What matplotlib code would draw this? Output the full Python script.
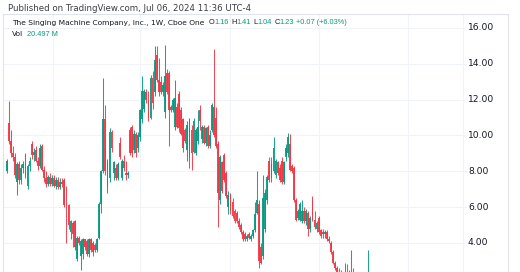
import numpy as np
import matplotlib
matplotlib.use("Agg")
import matplotlib.pyplot as plt

# weekly candles, The Singing Machine Company
opens = [
    8.0, 10.7, 9.7, 9.0, 8.8, 7.4, 8.4, 7.5, 8.2, 8.9,
    7.2, 8.3, 9.5, 8.9, 9.2, 8.6, 8.3, 9.4, 8.1, 7.6,
    7.3, 7.7, 7.3, 7.6, 7.2, 7.5, 7.1, 7.4, 7.5, 6.2,
    6.1, 4.6, 5.1, 5.2, 3.1, 4.3, 3.3, 3.4, 4.2, 4.1,
    3.4, 4.2, 4.0, 3.9, 3.6, 4.3, 6.2, 8.0, 10.9, 7.2,
    7.6, 10.2, 7.9, 8.2, 7.6, 9.6, 7.6, 8.6, 7.9, 7.8,
    10.3, 10.5, 9.2, 10.1, 9.3, 9.9, 10.9, 11.5, 12.4, 12.0,
    11.0, 13.2, 12.4, 14.5, 13.1, 13.0, 12.4, 11.3, 13.5, 13.5,
    11.6, 11.4, 10.5, 11.6, 12.3, 11.4, 10.9, 10.3, 9.2, 8.8,
    10.3, 9.1, 9.0, 9.7, 11.4, 9.8, 10.5, 9.6, 10.5, 9.4,
    10.3, 11.6, 11.0, 9.5, 6.4, 8.5, 8.9, 7.9, 6.0, 6.7,
    6.3, 5.8, 5.7, 5.2, 5.0, 4.6, 4.5, 4.2, 4.5, 4.2,
    4.4, 4.7, 5.7, 6.2, 3.8, 3.3, 4.8, 6.4, 8.6, 7.6,
    8.0, 7.8, 8.5, 8.2, 8.6, 7.4, 8.8, 9.0, 9.5, 8.3,
    8.2, 6.4, 5.4, 5.3, 5.2, 5.8, 5.2, 5.7, 4.8, 6.4,
    5.3, 4.8, 5.4, 4.7, 4.6, 4.5, 4.6, 4.2, 4.0, 3.5,
    2.9, 2.6, 2.4, 2.3, 2.2, 2.3, 2.4, 2.3, 2.2, 2.4,
    2.2, 2.1, 2.0, 2.1, 2.0, 1.9, 2.0, 2.2, 2.0, 1.9,
    1.8, 1.9, 1.8, 1.7, 1.8, 1.7, 1.6, 1.7, 1.6, 1.5,
    1.6, 1.5, 1.4, 1.5, 1.4, 1.3, 1.4, 1.3, 1.2, 1.3,
    1.2, 1.1, 1.2, 1.1, 1.0, 1.1, 1.0, 1.1, 1.2, 1.1,
    1.2, 1.1, 1.1, 1.2, 1.1, 1.1, 1.2, 1.16,
]
highs = [
    8.7, 11.9, 10.3, 9.4, 9.0, 8.5, 8.6, 8.4, 8.6, 9.0,
    8.4, 8.8, 9.7, 9.3, 9.4, 8.8, 9.5, 9.5, 8.3, 8.0,
    7.8, 7.9, 7.8, 7.8, 7.7, 7.7, 7.6, 7.6, 7.6, 7.2,
    6.2, 5.3, 5.2, 5.3, 4.4, 4.4, 4.2, 4.3, 4.2, 4.2,
    4.3, 4.3, 4.1, 4.0, 4.3, 6.3, 8.1, 13.2, 11.7, 8.7,
    10.4, 10.3, 8.6, 8.4, 8.5, 9.9, 8.7, 8.9, 8.6, 8.0,
    10.5, 10.6, 10.3, 10.2, 10.2, 11.5, 13.3, 12.6, 12.6, 12.5,
    13.4, 13.6, 15.0, 15.0, 14.3, 13.3, 13.0, 15.05, 13.7, 13.6,
    11.7, 12.1, 13.1, 11.8, 12.5, 11.6, 11.0, 10.4, 10.8, 11.0,
    10.6, 11.0, 10.4, 11.4, 11.7, 10.6, 10.6, 10.5, 10.6, 10.3,
    11.8, 14.8, 11.6, 9.7, 8.9, 8.6, 9.0, 8.0, 6.9, 6.8,
    6.5, 5.9, 5.8, 5.4, 5.1, 4.7, 4.6, 4.5, 4.6, 4.5,
    4.8, 6.3, 8.0, 6.4, 4.0, 7.8, 7.0, 7.8, 8.8, 8.8,
    9.9, 8.7, 8.6, 8.4, 8.8, 8.6, 9.5, 10.15, 10.1, 8.4,
    8.3, 6.5, 5.9, 6.3, 6.4, 6.0, 5.9, 5.8, 5.5, 6.6,
    5.8, 5.2, 5.5, 4.8, 4.8, 4.7, 4.7, 4.4, 4.1, 3.6,
    3.0, 2.7, 2.6, 2.5, 2.4, 2.9, 2.8, 2.5, 3.6, 2.6,
    2.4, 2.3, 2.2, 2.3, 2.2, 2.1, 3.6, 2.4, 2.2, 2.1,
    2.0, 2.1, 1.9, 1.9, 2.0, 1.8, 1.8, 1.9, 1.7, 1.7,
    1.8, 1.6, 1.6, 1.7, 1.5, 1.5, 1.6, 1.4, 1.4, 1.5,
    1.3, 1.3, 1.4, 1.2, 1.2, 1.3, 1.2, 1.3, 1.4, 1.3,
    1.3, 1.2, 1.3, 1.4, 1.2, 1.3, 1.3, 1.41,
]
lows = [
    7.9, 9.5, 8.8, 8.6, 7.6, 6.7, 7.3, 7.3, 7.9, 7.6,
    7.0, 8.0, 8.7, 8.6, 8.5, 8.1, 8.2, 8.0, 7.4, 7.1,
    7.2, 7.2, 7.2, 7.1, 7.0, 7.0, 7.0, 7.1, 6.0, 4.0,
    4.8, 4.2, 3.8, 3.6, 3.0, 3.9, 2.5, 3.1, 3.6, 3.3,
    3.2, 3.5, 3.3, 3.5, 3.5, 4.2, 5.7, 7.9, 7.8, 6.8,
    7.4, 9.1, 7.5, 7.5, 7.5, 8.7, 7.5, 8.0, 7.5, 7.6,
    8.9, 8.8, 9.0, 8.8, 9.1, 9.7, 10.7, 11.3, 11.8, 10.8,
    10.9, 11.5, 12.2, 13.0, 12.2, 12.3, 12.2, 11.0, 12.3, 9.4,
    11.3, 11.3, 10.3, 10.4, 10.2, 10.0, 9.1, 9.6, 8.6, 8.2,
    8.1, 9.0, 8.9, 9.5, 10.3, 9.6, 9.5, 9.4, 9.3, 9.3,
    10.2, 9.9, 9.3, 4.9, 6.2, 6.8, 7.4, 6.5, 5.6, 5.6,
    5.4, 5.1, 5.1, 4.8, 4.5, 4.1, 4.1, 4.1, 4.2, 4.1,
    4.3, 4.6, 5.6, 2.6, 2.8, 3.1, 4.6, 6.2, 7.4, 7.4,
    7.9, 7.6, 7.8, 7.4, 7.3, 7.3, 8.6, 8.8, 8.0, 7.9,
    6.3, 5.2, 5.3, 5.2, 5.1, 5.1, 5.0, 4.4, 4.6, 5.2,
    4.8, 4.6, 4.5, 4.3, 4.3, 4.3, 4.1, 4.0, 3.4, 2.8,
    2.5, 2.3, 2.2, 2.1, 2.0, 2.2, 2.2, 2.1, 2.1, 2.1,
    2.0, 1.9, 1.8, 1.9, 1.8, 1.8, 1.9, 1.9, 1.8, 1.7,
    1.7, 1.8, 1.6, 1.6, 1.7, 1.5, 1.5, 1.6, 1.4, 1.4,
    1.5, 1.3, 1.3, 1.4, 1.2, 1.2, 1.3, 1.1, 1.1, 1.2,
    1.0, 1.0, 1.1, 0.9, 0.9, 1.0, 0.9, 1.0, 1.1, 1.0,
    1.0, 1.0, 1.0, 1.1, 1.0, 1.0, 1.1, 1.04,
]
closes = [
    8.6, 9.7, 9.0, 8.8, 7.8, 8.4, 7.5, 8.2, 8.4, 7.7,
    8.3, 8.6, 8.9, 9.1, 8.6, 8.3, 9.3, 8.1, 7.6, 7.3,
    7.7, 7.3, 7.6, 7.2, 7.5, 7.1, 7.4, 7.3, 6.1, 6.1,
    5.0, 5.2, 4.5, 3.8, 4.3, 4.0, 4.1, 4.2, 3.8, 3.4,
    4.2, 3.6, 3.5, 3.6, 4.2, 6.2, 8.0, 10.9, 8.0, 8.5,
    10.2, 9.3, 8.5, 7.6, 8.4, 8.8, 8.6, 8.2, 7.8, 7.9,
    9.0, 9.0, 10.1, 9.0, 10.0, 11.4, 12.5, 12.5, 12.0, 11.0,
    13.2, 11.8, 14.2, 13.1, 12.4, 12.4, 12.8, 13.3, 12.4, 11.4,
    11.4, 12.0, 12.1, 10.5, 10.4, 10.1, 9.3, 9.7, 10.6, 10.9,
    9.0, 10.8, 10.3, 10.5, 10.8, 10.5, 9.6, 10.4, 9.4, 10.0,
    11.7, 10.0, 9.4, 6.8, 8.8, 6.9, 7.5, 6.6, 6.7, 5.8,
    5.5, 5.2, 5.2, 4.9, 4.6, 4.2, 4.2, 4.4, 4.3, 4.4,
    4.7, 5.6, 6.4, 3.0, 2.9, 6.5, 6.8, 7.7, 7.5, 8.4,
    9.3, 8.6, 7.9, 7.5, 7.4, 8.5, 9.3, 9.9, 8.1, 8.0,
    6.4, 5.3, 5.8, 6.2, 5.8, 5.2, 5.8, 4.8, 5.4, 5.3,
    4.9, 5.1, 4.6, 4.4, 4.5, 4.6, 4.2, 4.1, 3.5, 2.9,
    2.6, 2.4, 2.3, 2.2, 2.3, 2.4, 2.3, 2.2, 2.4, 2.2,
    2.1, 2.0, 2.1, 2.0, 1.9, 2.0, 2.2, 2.0, 1.9, 1.8,
    1.9, 1.8, 1.7, 1.8, 1.7, 1.6, 1.7, 1.6, 1.5, 1.6,
    1.5, 1.4, 1.5, 1.4, 1.3, 1.4, 1.3, 1.2, 1.3, 1.2,
    1.1, 1.2, 1.1, 1.0, 1.1, 1.0, 1.1, 1.2, 1.1, 1.2,
    1.1, 1.1, 1.2, 1.1, 1.1, 1.2, 1.16, 1.23,
]
price_ticks = [4, 6, 8, 10, 12, 14, 16]

UP = "#089981"
DOWN = "#F23645"
TXT = "#131722"
GRID = "#f0f3fa"

W, H = 520, 272
fig = plt.figure(figsize=(W / 100, H / 100), dpi=100)
fig.patch.set_facecolor("white")

# pane: x from 3 to 508 px, y from 14 px down past the bottom edge
ax = fig.add_axes([3 / W, 0, 505 / W, (H - 14) / H])
step = 2.05  # px per week


def px_to_x(px):
    return (px - 7) / step


ax.set_xlim(px_to_x(3), px_to_x(508))
ax.set_ylim(2.38, 16.78)

o = np.array(opens)
h = np.array(highs)
l = np.array(lows)
c = np.array(closes)
idx = np.arange(len(c))
cols = np.where(c >= o, UP, DOWN)

# grid
for gx in [53, 140, 230, 319, 408, 463]:
    ax.axvline(px_to_x(gx), color=GRID, lw=0.8, zorder=0)
ax.hlines(price_ticks, px_to_x(3), px_to_x(466), color=GRID, lw=0.8, zorder=0)

# candles
ax.vlines(idx, l, h, colors=cols, lw=0.75, alpha=0.9, zorder=2)
body = np.maximum(np.abs(c - o), 0.07)
ax.bar(idx, body, bottom=np.minimum(o, c), width=0.9, color=cols, alpha=0.92,
       lw=0, zorder=3)

ax.set_xticks([])
ax.set_yticks([])
for side in ["top", "left", "right"]:
    ax.spines[side].set_color("#e0e3eb")
    ax.spines[side].set_linewidth(0.8)
ax.spines["bottom"].set_visible(False)

# price scale labels
for p in price_ticks:
    ax.text((468 - 3) / 505, p, "%.2f" % p, transform=ax.get_yaxis_transform(),
            fontsize=6.6, color=TXT, va="center", ha="left")

renderer = fig.canvas.get_renderer()


def chain(x_px, y_px, parts):
    x = x_px
    for s, col, gap, fam, size in parts:
        t = fig.text(x / W, 1 - y_px / H, s, color=col, fontsize=size,
                     family=fam, va="center", ha="left")
        bb = t.get_window_extent(renderer)
        x = bb.x1 + gap


fig.text(8 / W, 1 - 8.5 / H, "Published on TradingView.com, Jul 06, 2024 11:36 UTC-4",
         fontsize=6.25, color="#3a3e47", va="center", ha="left")

NAME = ("DejaVu Sans", 5.4)
VAL = ("Liberation Sans", 5.3)
chain(12, 23, [
    ("The Singing Machine Company, Inc., 1W, Cboe One", TXT, 4) + NAME,
    ("O", TXT, 0.3) + VAL, ("1.16", UP, 2.2) + VAL,
    ("H", TXT, 0.3) + VAL, ("1.41", UP, 2.2) + VAL,
    ("L", TXT, 0.3) + VAL, ("1.04", UP, 2.2) + VAL,
    ("C", TXT, 0.3) + VAL, ("1.23", UP, 2.2) + VAL,
    ("+0.07 (+6.03%)", UP, 0) + VAL,
])

chain(12, 34, [("Vol", TXT, 3.5) + NAME, ("20.497 M", UP, 0) + VAL])

fig.savefig("out.png", dpi=100, facecolor="white")
